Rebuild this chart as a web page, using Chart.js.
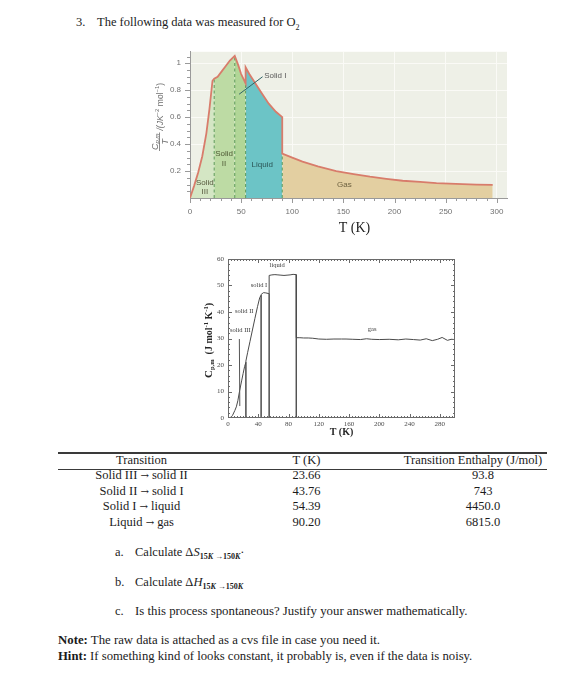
<!DOCTYPE html>
<html>
<head>
<meta charset="utf-8">
<title>O2 heat capacity</title>
<script src="https://cdn.jsdelivr.net/npm/chart.js@4.4.1/dist/chart.umd.min.js"></script>
<style>
  body {
    margin: 0;
    width: 572px;
    height: 700px;
    position: relative;
    overflow: hidden;
    background: #fff;
    color: #1b1b1b;
    font-family: "Liberation Serif", "Times New Roman", serif;
  }
  .t { position: absolute; white-space: nowrap; font-size: 12.5px; line-height: 13px; }
  .rule { position: absolute; left: 58px; width: 489px; background: #3a3a3a; }
  canvas { position: absolute; }
  #ratio-chart { left: 120px; top: 38px; }
  #cp-chart { left: 180px; top: 245px; }
  .low { font-family: "Liberation Serif", serif; font-weight: bold; font-size: 8px; vertical-align: -3px; line-height: 0; }
  .arw { font-family: "DejaVu Serif", serif; font-size: 10px; }
</style>
</head>
<body>
<canvas id="ratio-chart" width="400" height="200"></canvas>
<canvas id="cp-chart" width="290" height="200"></canvas>
<div class="rule" style="top:452px;height:1.5px"></div>
<div class="rule" style="top:468.5px;height:1px"></div>

<script>
// transitions of O2 (table under the plots)
const transitionNames = ["Solid III → solid II", "Solid II → solid I", "Solid I → liquid", "Liquid → gas"];
const transitionT = [23.66, 43.76, 54.39, 90.2];
const transitionH = ["93.8", "743", "4450.0", "6815.0"];

// top plot: Cp,m/T (J K^-2 mol^-1) against T (K); a repeated T is a jump
const ratioT = [
  0, 4, 8, 12, 16, 19, 22, 23.66, 27, 31,
  35, 39, 43.76, 47, 50, 54.39, 54.39, 58, 64, 70,
  77, 84, 90.2, 90.2, 100, 110, 125, 143, 160, 176,
  192, 208, 225, 241, 260, 280, 296
];
const ratioVal = [
  0.0, 0.09, 0.19, 0.31, 0.48, 0.66, 0.87, 0.885, 0.9, 0.94,
  0.98, 1.02, 1.055, 0.99, 0.92, 0.85, 0.97, 0.92, 0.85, 0.78,
  0.7, 0.64, 0.6, 0.33, 0.3, 0.27, 0.235, 0.2, 0.178, 0.158,
  0.142, 0.128, 0.12, 0.11, 0.105, 0.1, 0.098
];
const ratioXTicks = [0, 50, 100, 150, 200, 250, 300];
const ratioYTicks = [0.2, 0.4, 0.6, 0.8, 1];
const ratioPhases = ["Solid III", "Solid II", "Solid I", "Liquid", "Gas"];

// bottom plot: Cp,m (J mol^-1 K^-1) against T (K); transitions drop to 0
const cpT = [
  0, 4, 6, 9, 11, 13, 15.5, 18, 20, 22,
  23.66, 23.66, 23.66, 26, 29, 32, 35.5, 39, 42, 43.76,
  43.76, 43.76, 45, 47, 50, 53, 54.39, 54.39, 54.39, 58,
  62, 66, 70, 74, 78, 82, 86, 90.2, 90.2, 90.2,
  95, 100, 106, 112, 120, 130, 140, 150, 156, 165,
  175, 183, 190, 200, 213, 225, 235, 245, 254, 262,
  270, 277, 283, 290, 295, 300
];
const cpVal = [
  0, 0.3, 1, 2.8, 4.2, 6.5, 10.5, 14, 16.8, 19.5,
  21, 0, 21.5, 24.8, 28.8, 32.8, 37.5, 42, 45.5, 46.3,
  0, 46.6, 46.9, 47.3, 47.2, 47.0, 46.9, 0, 53.8, 54.0,
  54.1, 54.0, 53.9, 53.8, 53.9, 54.0, 54.2, 54.1, 0, 30.3,
  30.3, 30.2, 30.2, 30.1, 29.8, 29.7, 29.8, 29.8, 29.8, 29.7,
  29.6, 29.9, 29.7, 29.6, 29.7, 29.5, 29.8, 29.6, 29.4, 29.9,
  29.2, 29.7, 30.4, 29.3, 29.7, 29.6
];
const cpXTicks = [0, 40, 80, 120, 160, 200, 240, 280];
const cpYTicks = [0, 10, 20, 30, 40, 50, 60];
const cpPhases = ["solid III", "solid II", "solid I", "liquid", "gas"];

function addText(html, x, top, centered) {
  const el = document.createElement("div");
  el.className = "t";
  el.innerHTML = html;
  el.style.left = x + "px";
  el.style.top = top + "px";
  if (centered) el.style.transform = "translateX(-50%)";
  document.body.appendChild(el);
  return el;
}

function renderText() {
  addText("3.", 76, 16);
  addText("The following data was measured for O<sub style=\"font-size:8px\">2</sub>", 97, 16);

  addText("Transition", 141.5, 454, true);
  addText("T (K)", 306.5, 454, true);
  addText("Transition Enthalpy (J/mol)", 473, 454, true);

  transitionNames.forEach((name, i) => {
    const top = 469 + i * 15.6;
    addText(name.replace("→", "<span class=\"arw\">→</span>"), 141.5, top, true);
    addText(transitionT[i].toFixed(2), 306.5, top, true);
    addText(transitionH[i], 483, top, true);
  });

  addText("a.", 115, 546);
  addText("Calculate Δ<i>S</i><span class=\"low\">15<i>K</i> →150<i>K</i></span>·", 135, 546);
  addText("b.", 115, 576);
  addText("Calculate Δ<i>H</i><span class=\"low\">15<i>K</i> →150<i>K</i></span>", 135, 576);
  addText("c.", 115, 605);
  addText("Is this process spontaneous? Justify your answer mathematically.", 135, 605).style.fontSize = "12.8px";

  addText("<b>Note:</b> The raw data is attached as a cvs file in case you need it.", 58, 634).style.fontSize = "12.8px";
  addText("<b>Hint:</b> If something kind of looks constant, it probably is, even if the data is noisy.", 58, 650).style.fontSize = "12.7px";
}

// draws a run of [text, font, dy] pieces from x along the baseline y
function drawRich(ctx, parts, x, y) {
  let cx = x;
  parts.forEach(([text, font, dy]) => {
    ctx.font = font;
    ctx.fillText(text, cx, y + dy);
    cx += ctx.measureText(text).width;
  });
  return cx - x;
}

function richWidth(ctx, parts) {
  return parts.reduce((w, [text, font]) => {
    ctx.font = font;
    return w + ctx.measureText(text).width;
  }, 0);
}

function renderRatioChart() {
  const ctx = document.getElementById("ratio-chart").getContext("2d");
  const points = ratioT.map((t, i) => ({ x: t, y: ratioVal[i] }));
  const bounds = [0, ...transitionT, 310];
  const fillColors = ["#d4e6c4", "#bddba4", "#b1d697", "#6cc4c6", "#e3cfa1"];

  const regionSets = ratioPhases.map((name, i) => ({
    label: name,
    data: points.filter((p) => p.x >= bounds[i] && p.x <= bounds[i + 1]),
    backgroundColor: fillColors[i],
    borderColor: "rgba(0,0,0,0)",
    borderWidth: 1,
    pointRadius: 0,
    fill: "origin",
    order: 3,
  }));

  const dashSets = transitionT.map((t) => {
    const top = Math.min(...points.filter((p) => p.x === t).map((p) => p.y));
    return {
      data: [{ x: t, y: 0 }, { x: t, y: top }],
      borderColor: "#5c9a58",
      borderDash: [3, 2.5],
      borderWidth: 1,
      pointRadius: 0,
      fill: false,
      order: 2,
    };
  });

  const decor = {
    id: "ratioDecor",
    beforeDraw(chart) {
      const { ctx, chartArea: a } = chart;
      ctx.save();
      ctx.fillStyle = "#eef0e7";
      ctx.fillRect(a.left, a.top, a.right - a.left, a.bottom - a.top);
      ctx.restore();
    },
    afterDraw(chart) {
      const { ctx, chartArea: a, scales: { x, y } } = chart;
      ctx.save();

      // outward ticks
      ctx.strokeStyle = "#9a9a9a";
      ctx.lineWidth = 1;
      ctx.beginPath();
      for (let t = 0; t <= 300; t += 10) {
        const px = Math.round(x.getPixelForValue(t)) + 0.5;
        ctx.moveTo(px, a.bottom);
        ctx.lineTo(px, a.bottom + (t % 50 === 0 ? 5 : 3));
      }
      for (let k = 1; k <= 21; k++) {
        const py = Math.round(y.getPixelForValue(k * 0.05)) + 0.5;
        ctx.moveTo(a.left, py);
        ctx.lineTo(a.left - (k % 4 === 0 ? 5 : 3), py);
      }
      ctx.stroke();

      // phase labels
      ctx.textAlign = "center";
      ctx.textBaseline = "middle";
      ctx.font = "8px 'Liberation Sans'";
      const label = (text, t, v, color) => {
        ctx.fillStyle = color;
        ctx.fillText(text, x.getPixelForValue(t), y.getPixelForValue(v));
      };
      label("Solid", 14.5, 0.113, "#56583e");
      label("III", 14.5, 0.043, "#56583e");
      label("Solid", 33.3, 0.33, "#4f5a36");
      label("II", 33.3, 0.255, "#4f5a36");
      label("Liquid", 70.6, 0.25, "#2b5556");
      label("Gas", 151, 0.1, "#6d6140");
      ctx.textAlign = "left";
      label("Solid I", 72.5, 0.91, "#5a5a5a");

      ctx.strokeStyle = "#2f6465";
      ctx.beginPath();
      ctx.moveTo(x.getPixelForValue(48), y.getPixelForValue(0.77));
      ctx.lineTo(x.getPixelForValue(71), y.getPixelForValue(0.9));
      ctx.stroke();

      // axis titles
      ctx.fillStyle = "#1e1e1e";
      ctx.textAlign = "center";
      ctx.font = "14px 'Liberation Serif'";
      ctx.fillText("T (K)", (a.left + a.right) / 2 + 6, a.bottom + 30);

      ctx.save();
      ctx.translate(a.left - 31, a.bottom - 47);
      ctx.rotate(-Math.PI / 2);
      ctx.fillStyle = "#6e6e6e";
      ctx.strokeStyle = "#6e6e6e";
      ctx.textAlign = "left";
      ctx.textBaseline = "alphabetic";
      const num = [["C", "italic 9px 'Liberation Sans'", 0], ["p,m", "italic 6px 'Liberation Sans'", 1.5]];
      const numW = richWidth(ctx, num);
      ctx.beginPath();
      ctx.moveTo(0, 0.5);
      ctx.lineTo(numW + 2, 0.5);
      ctx.lineWidth = 0.8;
      ctx.stroke();
      drawRich(ctx, num, 1, -1.5);
      ctx.font = "italic 9px 'Liberation Sans'";
      ctx.textAlign = "center";
      ctx.fillText("T", (numW + 2) / 2, 8.5);
      ctx.textAlign = "left";
      drawRich(ctx, [
        ["/(JK", "italic 8.5px 'Liberation Sans'", 0],
        ["−2", "6px 'Liberation Sans'", -3.5],
        [" mol", "8.5px 'Liberation Sans'", 0],
        ["−1", "6px 'Liberation Sans'", -3.5],
        [")", "8.5px 'Liberation Sans'", 0],
      ], numW + 4, 3.5);
      ctx.restore();

      ctx.restore();
    },
  };

  new Chart(ctx, {
    type: "line",
    plugins: [decor],
    data: {
      datasets: [
        {
          label: "Cp,m/T",
          data: points,
          borderColor: "#d87c6b",
          borderWidth: 1.8,
          pointRadius: 0,
          fill: false,
          order: 1,
        },
        ...dashSets,
        ...regionSets,
      ],
    },
    options: {
      responsive: false,
      animation: false,
      events: [],
      layout: { padding: { left: 0, top: 7, right: 13, bottom: 0 } },
      elements: { line: { tension: 0 } },
      plugins: { legend: { display: false }, tooltip: { enabled: false } },
      scales: {
        x: {
          type: "linear",
          min: 0,
          max: 310,
          afterBuildTicks: (s) => { s.ticks = ratioXTicks.map((v) => ({ value: v })); },
          afterFit: (s) => { s.height = 40; },
          grid: { color: "#fafaf6", drawTicks: false },
          border: { color: "#9a9a9a" },
          ticks: {
            padding: 9,
            maxRotation: 0,
            color: "#707070",
            font: { family: "Liberation Sans", size: 8 },
            callback: (v) => String(v),
          },
        },
        y: {
          min: 0,
          max: 1.085,
          afterBuildTicks: (s) => { s.ticks = ratioYTicks.map((v) => ({ value: v })); },
          afterFit: (s) => { s.width = 70; },
          grid: { color: "#fafaf6", drawTicks: false },
          border: { color: "#9a9a9a" },
          ticks: {
            padding: 9,
            color: "#707070",
            font: { family: "Liberation Sans", size: 8 },
            callback: (v) => String(v),
          },
        },
      },
    },
  });
}

function renderCpChart() {
  const ctx = document.getElementById("cp-chart").getContext("2d");
  const points = cpT.map((t, i) => ({ x: t, y: cpVal[i] }));

  const decor = {
    id: "cpDecor",
    afterDraw(chart) {
      const { ctx, chartArea: a, scales: { x, y } } = chart;
      ctx.save();
      ctx.strokeStyle = "#6a6a6a";
      ctx.lineWidth = 1;
      ctx.strokeRect(a.left + 0.5, a.top + 0.5, a.right - a.left - 1, a.bottom - a.top - 1);

      // inward ticks on all four sides
      ctx.beginPath();
      for (let t = 4; t < 300; t += 4) {
        const px = Math.round(x.getPixelForValue(t)) + 0.5;
        const len = t % 40 === 0 ? 4 : 2;
        ctx.moveTo(px, a.bottom); ctx.lineTo(px, a.bottom - len);
        ctx.moveTo(px, a.top); ctx.lineTo(px, a.top + len);
      }
      for (let c = 2; c < 60; c += 2) {
        const py = Math.round(y.getPixelForValue(c)) + 0.5;
        const len = c % 10 === 0 ? 4 : 2;
        ctx.moveTo(a.left, py); ctx.lineTo(a.left + len, py);
        ctx.moveTo(a.right, py); ctx.lineTo(a.right - len, py);
      }
      ctx.stroke();

      // phase labels
      ctx.fillStyle = "#3c3c3c";
      ctx.textAlign = "center";
      ctx.textBaseline = "middle";
      ctx.font = "6.5px 'Liberation Serif'";
      const spots = [[16.2, 33.2], [21.4, 40.2], [41, 50], [65, 57.6], [190.5, 33.5]];
      cpPhases.forEach((name, i) => {
        ctx.fillText(name, x.getPixelForValue(spots[i][0]), y.getPixelForValue(spots[i][1]));
      });
      ctx.strokeStyle = "#555";
      ctx.beginPath();
      ctx.moveTo(x.getPixelForValue(15), y.getPixelForValue(29.8));
      ctx.lineTo(x.getPixelForValue(15.6), y.getPixelForValue(4.5));
      ctx.stroke();

      // axis titles
      ctx.fillStyle = "#262626";
      ctx.font = "bold 10px 'Liberation Serif'";
      ctx.fillText("T (K)", (a.left + a.right) / 2, a.bottom + 14);

      ctx.save();
      ctx.translate(a.left - 20, (a.top + a.bottom) / 2 + 2);
      ctx.rotate(-Math.PI / 2);
      ctx.textAlign = "left";
      ctx.textBaseline = "alphabetic";
      const parts = [
        ["C", "bold 11px 'Liberation Serif'", 0],
        ["p,m", "bold 6.5px 'Liberation Serif'", 2.5],
        ["  (J mol", "bold 10px 'Liberation Serif'", 0],
        ["-1", "bold 6.5px 'Liberation Serif'", -4],
        [" K", "bold 10px 'Liberation Serif'", 0],
        ["-1", "bold 6.5px 'Liberation Serif'", -4],
        [")", "bold 10px 'Liberation Serif'", 0],
      ];
      drawRich(ctx, parts, -richWidth(ctx, parts) / 2, 3.5);
      ctx.restore();

      ctx.restore();
    },
  };

  new Chart(ctx, {
    type: "line",
    plugins: [decor],
    data: {
      datasets: [
        {
          label: "Cp,m",
          data: points,
          borderColor: "#4a4a4a",
          borderWidth: 1,
          pointRadius: 0,
          fill: false,
        },
      ],
    },
    options: {
      responsive: false,
      animation: false,
      events: [],
      layout: { padding: { left: 0, top: 14, right: 15, bottom: 0 } },
      elements: { line: { tension: 0 } },
      plugins: { legend: { display: false }, tooltip: { enabled: false } },
      scales: {
        x: {
          type: "linear",
          min: 0,
          max: 300,
          afterBuildTicks: (s) => { s.ticks = cpXTicks.map((v) => ({ value: v })); },
          afterFit: (s) => { s.height = 27; },
          grid: { display: false, drawTicks: false },
          border: { display: false },
          ticks: {
            padding: 2,
            maxRotation: 0,
            color: "#4a4a4a",
            font: { family: "Liberation Serif", size: 7 },
            callback: (v) => String(v),
          },
        },
        y: {
          min: 0,
          max: 60,
          afterBuildTicks: (s) => { s.ticks = cpYTicks.map((v) => ({ value: v })); },
          afterFit: (s) => { s.width = 48; },
          grid: { display: false, drawTicks: false },
          border: { display: false },
          ticks: {
            padding: 4,
            color: "#4a4a4a",
            font: { family: "Liberation Serif", size: 7 },
            callback: (v) => String(v),
          },
        },
      },
    },
  });
}

renderText();
renderRatioChart();
renderCpChart();
</script>
</body>
</html>
